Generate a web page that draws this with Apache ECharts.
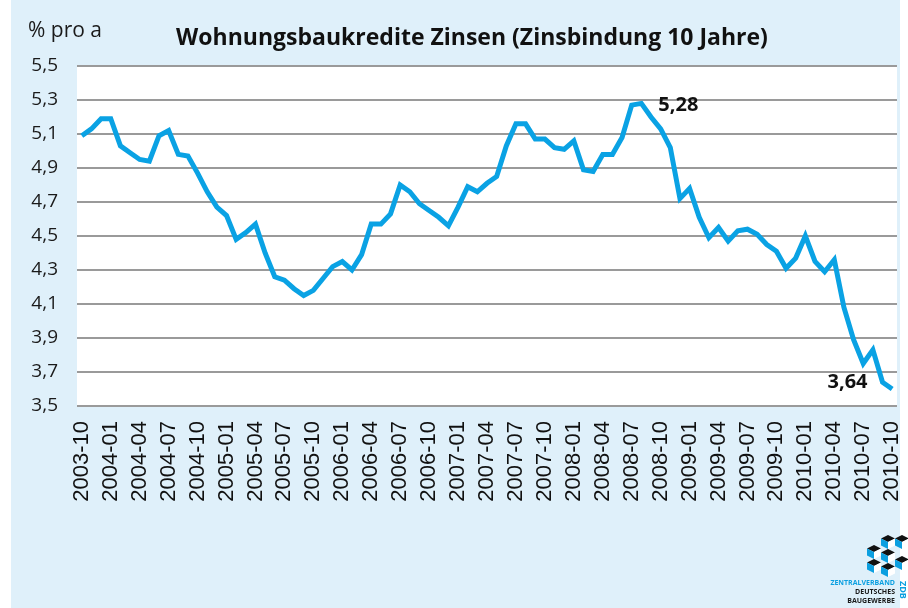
<!DOCTYPE html>
<html>
<head>
<meta charset="utf-8">
<script src="https://cdn.jsdelivr.net/npm/echarts@6/dist/echarts.min.js"></script>
<style>
  html, body { margin: 0; padding: 0; background: #ffffff; }
  #chart { width: 908px; height: 608px; }
</style>
</head>
<body>
<div id="chart"></div>
<script>
  // Monatswerte 2003-10 .. 2010-10
  var months = [];
  for (var y = 2003; y <= 2010; y++) {
    for (var m = 1; m <= 12; m++) {
      if ((y === 2003 && m < 10) || (y === 2010 && m > 10)) continue;
      months.push(y + '-' + (m < 10 ? '0' + m : m));
    }
  }

  var zinsen = [
    5.09, 5.13, 5.19, 5.19, 5.03, 4.99, 4.95, 4.94, 5.09, 5.12, 4.98, 4.97,
    4.87, 4.76, 4.67, 4.62, 4.48, 4.52, 4.57, 4.40, 4.26, 4.24, 4.19, 4.15,
    4.18, 4.25, 4.32, 4.35, 4.30, 4.39, 4.57, 4.57, 4.63, 4.80, 4.76, 4.69,
    4.65, 4.61, 4.56, 4.67, 4.79, 4.76, 4.81, 4.85, 5.03, 5.16, 5.16, 5.07,
    5.07, 5.02, 5.01, 5.06, 4.89, 4.88, 4.98, 4.98, 5.08, 5.27, 5.28, 5.20,
    5.13, 5.02, 4.72, 4.78, 4.61, 4.49, 4.55, 4.47, 4.53, 4.54, 4.51, 4.45,
    4.41, 4.31, 4.37, 4.50, 4.35, 4.29, 4.36, 4.08, 3.89, 3.75, 3.83, 3.64,
    3.60
  ];

  var yMin = 3.5, yMax = 5.5, yStep = 0.2;
  var peakIdx = 58, lowIdx = 83;

  var chart = echarts.init(document.getElementById('chart'));

  function komma(v) { return v.toFixed(2).replace('.', ','); }

  // kleine Wuerfel fuer das ZDB-Logo
  function cube(cx, cy, s) {
    return [
      { type: 'polygon', shape: { points: [[cx, cy], [cx + s, cy + s / 2], [cx, cy + s], [cx - s, cy + s / 2]] }, style: { fill: '#111' } },
      { type: 'polygon', shape: { points: [[cx - s, cy + s / 2], [cx, cy + s], [cx, cy + 2 * s], [cx - s, cy + 1.5 * s]] }, style: { fill: '#0b9fe0' } },
      { type: 'polygon', shape: { points: [[cx + s, cy + s / 2], [cx, cy + s], [cx, cy + 2 * s], [cx + s, cy + 1.5 * s]] }, style: { fill: '#ffffff' } }
    ];
  }
  var cubes = [].concat(
    cube(21, 0, 7), cube(35, 0, 7),
    cube(7, 10, 7), cube(21, 14, 7),
    cube(35, 21, 7), cube(7, 24, 7), cube(21, 28, 7)
  );

  chart.setOption({
    animation: false,
    backgroundColor: '#ffffff',
    graphic: [
      { type: 'rect', left: 11, top: 0, shape: { width: 889, height: 608 }, style: { fill: '#dff0fa' }, z: -10 },
      { type: 'text', left: 28, top: 21, style: { text: '% pro a', font: '21px "Open Sans"', fill: '#1a1a1a' } },
      // ZDB Logo (vereinfacht)
      { type: 'group', x: 867, y: 535, children: cubes },
      { type: 'text', x: 895, y: 583, style: { text: 'ZENTRALVERBAND', font: 'bold 7px "Open Sans"', fill: '#0b9fe0', textAlign: 'right', textVerticalAlign: 'middle' } },
      { type: 'text', x: 895, y: 592, style: { text: 'DEUTSCHES', font: 'bold 7px "Open Sans"', fill: '#1a1a1a', textAlign: 'right', textVerticalAlign: 'middle' } },
      { type: 'text', x: 895, y: 601, style: { text: 'BAUGEWERBE', font: 'bold 7px "Open Sans"', fill: '#1a1a1a', textAlign: 'right', textVerticalAlign: 'middle' } },
      { type: 'text', x: 903, y: 581, rotation: -Math.PI / 2, style: { text: 'ZDB', font: 'bold 9px "Open Sans"', fill: '#0b9fe0', textAlign: 'left', textVerticalAlign: 'middle' } }
    ],
    title: {
      text: 'Wohnungsbaukredite Zinsen (Zinsbindung 10 Jahre)',
      left: 467,
      textAlign: 'center',
      top: 22,
      textStyle: { fontFamily: 'Open Sans', fontWeight: 'bold', fontSize: 23, color: '#111' }
    },
    grid: {
      left: 77, right: 11, top: 66, bottom: 202,
      show: true, backgroundColor: '#ffffff', borderWidth: 0
    },
    xAxis: {
      type: 'category',
      data: months,
      boundaryGap: true,
      axisLine: { show: false },
      axisTick: { show: false },
      axisLabel: {
        interval: 2,
        rotate: 90,
        margin: 15,
        fontFamily: 'Liberation Sans',
        fontSize: 22,
        color: '#111'
      }
    },
    yAxis: {
      type: 'value',
      min: yMin, max: yMax, interval: yStep,
      axisLine: { show: false },
      axisTick: { show: false },
      axisLabel: {
        margin: 19,
        fontFamily: 'Open Sans',
        fontSize: 19,
        color: '#1a1a1a',
        formatter: function (v) { return v.toFixed(1).replace('.', ','); }
      },
      splitLine: { lineStyle: { color: '#9a9a9a', width: 2 } }
    },
    series: [{
      type: 'line',
      data: zinsen,
      symbol: 'none',
      lineStyle: { color: '#0aa2e4', width: 5, join: 'miter' },
      markPoint: {
        symbol: 'circle',
        symbolSize: 0,
        label: {
          show: true,
          fontFamily: 'Open Sans',
          fontWeight: 'bold',
          fontSize: 20,
          color: '#111',
          formatter: function (p) { return komma(p.value); }
        },
        data: [
          { coord: [peakIdx, zinsen[peakIdx]], value: zinsen[peakIdx], label: { position: 'right', offset: [12, 2] } },
          { coord: [lowIdx, zinsen[lowIdx]], value: zinsen[lowIdx], label: { position: 'left', offset: [-10, 0] } }
        ]
      }
    }]
  });
</script>
</body>
</html>
